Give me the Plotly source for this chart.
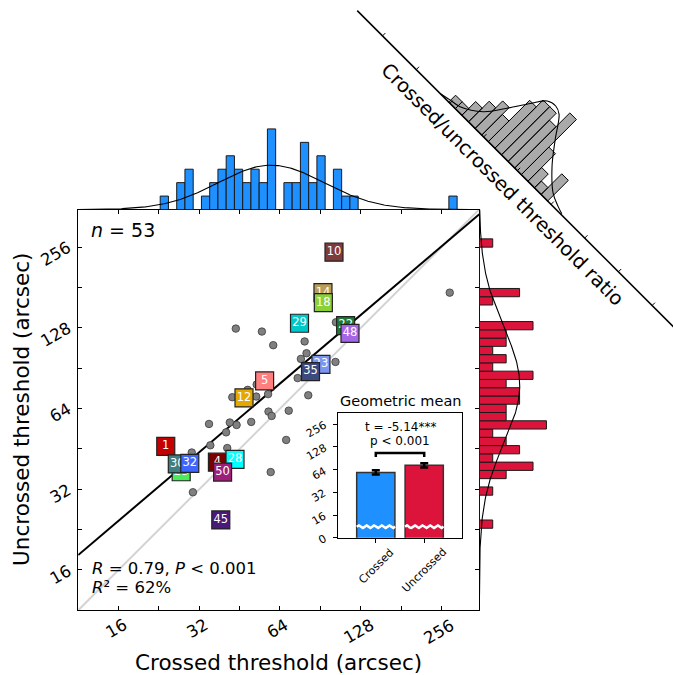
import math
import numpy as np
import plotly.graph_objects as go

W, H = 673, 675
FONT = "DejaVu Sans"

# ---------------- data ----------------
# labelled subjects: crossed / uncrossed thresholds (arcsec)
sq_labels = ['1', '4', '5', '10', '12', '14', '18', '22', '23', '25', '28', '29', '30', '32', '35', '45', '48', '50']
sq_crossed = [24.0, 37.4, 56.1, 101.8, 47.0, 92.6, 92.9, 112.5, 91.0, 27.4, 43.5, 75.7, 26.5, 29.5, 83.2, 38.5, 116.8, 39.1]
sq_uncrossed = [46.3, 40.4, 81.2, 245.4, 70.2, 173.4, 159.1, 130.7, 93.6, 37.2, 41.4, 133.3, 39.8, 40.0, 88.0, 24.6, 122.2, 37.1]
sq_colors = ['#C40000', '#7A0000', '#FF7F7F', '#7F3B3B', '#E5A800', '#B89E5A', '#8CD038', '#1F7A35', '#7B96F0',
             '#4CEB5A', '#00FFFF', '#00C8C8', '#3F7F7F', '#3F66FF', '#3C4A7E', '#4A1A7A', '#A566E6', '#9E1F7A']

# unlabelled subjects
dot_crossed = [275.1, 43.8, 54.8, 60.4, 79.1, 80.4, 76.6, 103.5, 103.1, 74.5, 81.6, 52.4, 48.5, 42.5, 52.2,
               57.8, 58.0, 59.6, 69.0, 34.8, 41.6, 44.1, 40.3, 50.0, 35.2, 40.7, 30.0, 67.5, 59.1, 30.3]
dot_uncrossed = [173.4, 127.3, 124.1, 110.4, 114.0, 103.0, 98.1, 134.4, 95.6, 83.2, 71.8, 78.7, 75.2, 70.6, 71.0,
                 72.5, 62.4, 60.1, 62.9, 56.1, 56.8, 55.6, 52.2, 57.1, 46.7, 45.6, 43.9, 48.9, 37.1, 31.2]

# regression (log2 space)
reg_slope, reg_intercept = 0.85, 1.21

# axis ticks
tick_log2 = [4, 4.5, 5, 5.5, 6, 6.5, 7, 7.5, 8]
label_log2 = [4, 5, 6, 7, 8]
label_text = ['16', '32', '64', '128', '256']
XLIM = (3.5, 8.47)
YLIM = (3.5, 8.4685)

# top histogram (crossed, log2 bins)
hx_start, hx_width = 4.516, 0.1022
hx_counts = [1, 0, 2, 3, 0, 1, 2, 3, 4, 3, 2, 3, 2, 6, 0, 2, 2, 5, 2, 4, 0, 3, 1, 1,
             0, 0, 0, 0, 0, 0, 0, 0, 0, 0, 0, 1]
hx_mean, hx_sd = 5.89, 0.655

# right histogram (uncrossed, log2 bins, bottom to top)
hy_start, hy_width = 4.517, 0.1025
hy_counts = [1, 0, 0, 0, 1, 0, 2, 4, 1, 3, 2, 1, 5, 2, 2, 3, 3, 2, 4, 1, 2, 1, 2, 2, 4,
             0, 0, 1, 3, 0, 0, 0, 0, 0, 1]
hy_mean, hy_sd = 6.29, 0.72
n_subjects = 53

# crossed/uncrossed ratio histogram (rotated)
ratio_start, ratio_width = 1.964, 0.1958
ratio_counts = [1, 1, 2, 3, 4, 3, 6, 7, 7, 6, 8, 4, 2, 1, 3]
ratio_ticks = [0, 1, 2, 3, 4, 5, 6, 7, 8]
ratio_curve_t = [1.71, 1.95, 2.20, 2.62, 2.92, 3.20, 3.41, 3.61, 3.78, 4.10, 4.45, 4.87, 5.14, 5.30]
ratio_curve_h = [0.0, 0.25, 0.49, 1.81, 3.78, 5.84, 7.22, 7.48, 7.13, 5.01, 2.84, 0.95, 0.36, 0.1]

# inset: geometric means
gm_names = ['Crossed', 'Uncrossed']
gm_values = [58.9, 73.0]
gm_err_log2 = [0.095, 0.095]
gm_colors = ['#1E90FF', '#DC143C']
gm_tick_log2 = [3, 4, 5, 6, 7, 8]
gm_tick_text = ['0', '16', '32', '64', '128', '256']

# ---------------- geometry (pixels) ----------------
ML, MR, MT, MB = 78.2, 479.3, 209.5, 610.3
CNT_PX = 13.43
IL, IR, IT, IB = 338.0, 462.3, 413.3, 537.7
IXR = (-0.781, 1.787)
IYR = (3.0, 8.485)
ROT_X0, ROT_TICK, ROT_OFF, ROT_UNIT = 382.5, 33.7, 346.6, 9.75


def fx(px):
    return px / W


def fy(py):
    return 1 - py / H


def main_px_x(v):
    return ML + (v - XLIM[0]) / (XLIM[1] - XLIM[0]) * (MR - ML)


def main_px_y(v):
    return MB - (v - YLIM[0]) / (YLIM[1] - YLIM[0]) * (MB - MT)


def inset_px_x(v):
    return IL + (v - IXR[0]) / (IXR[1] - IXR[0]) * (IR - IL)


def inset_px_y(v):
    return IB - (v - IYR[0]) / (IYR[1] - IYR[0]) * (IB - IT)


CW = {'0': .636, '1': .636, '2': .636, '3': .636, '4': .636, '5': .636, '6': .636, '7': .636, '8': .636,
      '9': .636, 'C': .698, 'r': .411, 'o': .612, 's': .521, 'e': .615, 'd': .635, 'U': .732, 'n': .634,
      'c': .550}


def text_w(s, fs):
    return sum(CW.get(ch, 0.6) for ch in s) * fs


def rot(t, h):
    xb = ROT_X0 + ROT_TICK * t
    d = h * ROT_UNIT
    return xb + d / math.sqrt(2), xb - ROT_OFF - d / math.sqrt(2)


fig = go.Figure()

# ---------------- main scatter ----------------
fig.add_trace(go.Scatter(x=list(XLIM), y=list(XLIM), mode='lines',
                         line=dict(color='#D3D3D3', width=2), xaxis='x', yaxis='y', hoverinfo='skip'))
rx = np.array(XLIM)
fig.add_trace(go.Scatter(x=rx, y=reg_intercept + reg_slope * rx, mode='lines',
                         line=dict(color='black', width=2), xaxis='x', yaxis='y', hoverinfo='skip'))
fig.add_trace(go.Scatter(x=np.log2(dot_crossed), y=np.log2(dot_uncrossed), mode='markers',
                         marker=dict(size=7.5, color='#808080', line=dict(color='#3A3A3A', width=0.8)),
                         xaxis='x', yaxis='y'))
for lab, cx, cy, col in zip(sq_labels, sq_crossed, sq_uncrossed, sq_colors):
    fig.add_trace(go.Scatter(x=[math.log2(cx)], y=[math.log2(cy)], mode='markers+text', text=[lab],
                             textposition='middle center',
                             textfont=dict(family=FONT, size=11.5, color='white'),
                             marker=dict(symbol='square', size=18, color=col,
                                         line=dict(color='#222222', width=1.2)),
                             xaxis='x', yaxis='y'))

# ---------------- top histogram ----------------
hx_centers = [hx_start + (i + 0.5) * hx_width for i in range(len(hx_counts))]
fig.add_trace(go.Bar(x=hx_centers, y=hx_counts, width=hx_width, xaxis='x2', yaxis='y2',
                     marker=dict(color='#1E90FF', line=dict(color='#1a1a1a', width=1))))
gx = np.linspace(XLIM[0], XLIM[1], 300)
gpx = n_subjects * hx_width * np.exp(-0.5 * ((gx - hx_mean) / hx_sd) ** 2) / (hx_sd * math.sqrt(2 * math.pi))
fig.add_trace(go.Scatter(x=gx, y=gpx, mode='lines', line=dict(color='black', width=1.1),
                         xaxis='x2', yaxis='y2', hoverinfo='skip'))

# ---------------- right histogram ----------------
hy_centers = [hy_start + (i + 0.5) * hy_width for i in range(len(hy_counts))]
fig.add_trace(go.Bar(y=hy_centers, x=hy_counts, width=hy_width, orientation='h', xaxis='x3', yaxis='y3',
                     marker=dict(color='#DC143C', line=dict(color='#1a1a1a', width=1))))
gy = np.linspace(YLIM[0], YLIM[1], 300)
gpy = n_subjects * hy_width * np.exp(-0.5 * ((gy - hy_mean) / hy_sd) ** 2) / (hy_sd * math.sqrt(2 * math.pi))
fig.add_trace(go.Scatter(x=gpy, y=gy, mode='lines', line=dict(color='black', width=1.1),
                         xaxis='x3', yaxis='y3', hoverinfo='skip'))

# ---------------- inset bar chart ----------------
gm_log = [math.log2(v) for v in gm_values]
fig.add_trace(go.Bar(x=[0, 1], y=gm_log, width=0.79, xaxis='x4', yaxis='y4',
                     marker=dict(color=gm_colors, line=dict(color='#333333', width=1.5)),
                     error_y=dict(type='data', array=gm_err_log2, color='black', thickness=2.5, width=4)))
wave_y0, wave_amp, wave_period = 3.484, 0.06, 0.157
for c in [0, 1]:
    wx = np.linspace(c - 0.395, c + 0.395, 120)
    wy = wave_y0 + wave_amp * np.sin(2 * math.pi * (wx - (c - 0.395)) / wave_period)
    fig.add_trace(go.Scatter(x=wx, y=wy, mode='lines', line=dict(color='white', width=2.5),
                             xaxis='x4', yaxis='y4', hoverinfo='skip'))
fig.add_trace(go.Scatter(x=[0, 0, 1, 1], y=[6.56, 6.736, 6.736, 6.56], mode='lines',
                         line=dict(color='black', width=2.5), xaxis='x4', yaxis='y4', hoverinfo='skip'))

# ---------------- rotated ratio histogram (pixel overlay) ----------------
bxs, bys = [], []
for k, c in enumerate(ratio_counts):
    if c <= 0:
        continue
    t0 = ratio_start + k * ratio_width
    t1 = t0 + ratio_width
    pts = [rot(t0, 0), rot(t1, 0), rot(t1, c), rot(t0, c), rot(t0, 0)]
    bxs += [p[0] for p in pts] + [None]
    bys += [p[1] for p in pts] + [None]
fig.add_trace(go.Scatter(x=bxs, y=bys, mode='lines', fill='toself', fillcolor='#AAAAAA',
                         line=dict(color='black', width=1), xaxis='x5', yaxis='y5', hoverinfo='skip'))
cpts = [rot(t, h) for t, h in zip(ratio_curve_t, ratio_curve_h)]
fig.add_trace(go.Scatter(x=[p[0] for p in cpts], y=[p[1] for p in cpts], mode='lines',
                         line=dict(color='black', width=1.1, shape='spline', smoothing=1.0),
                         xaxis='x5', yaxis='y5', hoverinfo='skip'))
la, lb = rot(-0.75, 0), rot(9.6, 0)
fig.add_trace(go.Scatter(x=[la[0], lb[0]], y=[la[1], lb[1]], mode='lines',
                         line=dict(color='black', width=1.5), xaxis='x5', yaxis='y5', hoverinfo='skip'))
txs, tys = [], []
for t in ratio_ticks:
    a, b = rot(t, 0), rot(t, 4.0 / ROT_UNIT)
    txs += [a[0], b[0], None]
    tys += [a[1], b[1], None]
fig.add_trace(go.Scatter(x=txs, y=tys, mode='lines', line=dict(color='black', width=1),
                         xaxis='x5', yaxis='y5', hoverinfo='skip'))

# ---------------- annotations ----------------
ann = []


def add_text(px, py, text, size, angle=0, xanchor='center', yanchor='middle', color='black'):
    ann.append(dict(x=fx(px), y=fy(py), xref='paper', yref='paper', text=text, showarrow=False,
                    textangle=angle, xanchor=xanchor, yanchor=yanchor,
                    font=dict(family=FONT, size=size, color=color)))


# main tick labels
TFS = 16.5
for v, s in zip(label_log2, label_text):
    L = text_w(s, TFS)
    hh = 0.75 * TFS
    bh = 0.5 * L + 0.866 * hh
    add_text(main_px_x(v) - 2, 618 + bh / 2, s, TFS, angle=-30)
    bw = 0.866 * L + 0.5 * hh
    add_text(73.0 - bw / 2, main_px_y(v) + 0.2 * L, s, TFS, angle=-30)

add_text((ML + MR) / 2, 662.2, 'Crossed threshold (arcsec)', 21.5)
add_text(22, (MT + MB) / 2, 'Uncrossed threshold (arcsec)', 21.5, angle=-90)
add_text(89, 229.6, '<i>n</i> = 53', 19, xanchor='left')
add_text(89.5, 568, '<i>R</i> = 0.79, <i>P</i> < 0.001', 16.5, xanchor='left')
add_text(89.5, 587, '<i>R</i>² = 62%', 16.5, xanchor='left')

# inset labels
add_text((IL + IR) / 2, 401.3, 'Geometric mean', 14.5)
add_text(400, 426.7, 't = -5.14***', 12)
add_text(400, 440.7, 'p < 0.001', 12)
IFS = 11
for v, s in zip(gm_tick_log2, gm_tick_text):
    L = text_w(s, IFS)
    hh = 0.75 * IFS
    bw = 0.866 * L + 0.5 * hh
    add_text(327.4 - bw / 2, inset_px_y(v) + 0.25 * L, s, IFS, angle=-30)
for i, s in enumerate(gm_names):
    L = text_w(s, IFS)
    bh = (L + 0.75 * IFS) / math.sqrt(2)
    add_text(inset_px_x(i), 547.5 + bh / 2, s, IFS, angle=-45)

# rotated histogram label
lc = rot(3.98, -20.0 / ROT_UNIT)
add_text(lc[0], lc[1], 'Crossed/uncrossed threshold ratio', 19.5, angle=45)

# ---------------- layout ----------------
main_ax = dict(showgrid=False, zeroline=False, showline=True, linecolor='black', linewidth=1.3,
               mirror='allticks', ticks='inside', ticklen=4, tickwidth=1, tickcolor='black',
               tickvals=tick_log2, showticklabels=False)
hidden = dict(visible=False, showgrid=False, zeroline=False, fixedrange=True)

fig.update_layout(
    width=W, height=H, margin=dict(l=0, r=0, t=0, b=0),
    paper_bgcolor='white', plot_bgcolor='rgba(0,0,0,0)',
    showlegend=False, font=dict(family=FONT),
    xaxis=dict(domain=[fx(ML), fx(MR)], range=list(XLIM), anchor='y', **main_ax),
    yaxis=dict(domain=[fy(MB), fy(MT)], range=list(YLIM), anchor='x', **main_ax),
    xaxis2=dict(domain=[fx(ML), fx(MR)], matches='x', anchor='y2', **hidden),
    yaxis2=dict(domain=[fy(MT), 1.0], range=[0, MT / CNT_PX], anchor='x2', **hidden),
    xaxis3=dict(domain=[fx(MR), 1.0], range=[0, (W - MR) / CNT_PX], anchor='y3', **hidden),
    yaxis3=dict(domain=[fy(MB), fy(MT)], matches='y', anchor='x3', **hidden),
    xaxis4=dict(domain=[fx(IL), fx(IR)], range=list(IXR), anchor='y4', showgrid=False, zeroline=False,
                showline=True, linecolor='black', linewidth=1.2, mirror=True, ticks='outside',
                ticklen=4, tickcolor='black', tickvals=[0, 1], showticklabels=False),
    yaxis4=dict(domain=[fy(IB), fy(IT)], range=list(IYR), anchor='x4', showgrid=False, zeroline=False,
                showline=True, linecolor='black', linewidth=1.2, mirror=True, ticks='outside',
                ticklen=4, tickcolor='black', tickvals=gm_tick_log2, showticklabels=False),
    xaxis5=dict(domain=[0, 1], range=[0, W], anchor='y5', **hidden),
    yaxis5=dict(domain=[0, 1], range=[H, 0], anchor='x5', **hidden),
    annotations=ann,
)

fig.write_html("out.html", config={'displayModeBar': False},
               post_script="document.body.style.margin='0';document.body.style.overflow='hidden';")
